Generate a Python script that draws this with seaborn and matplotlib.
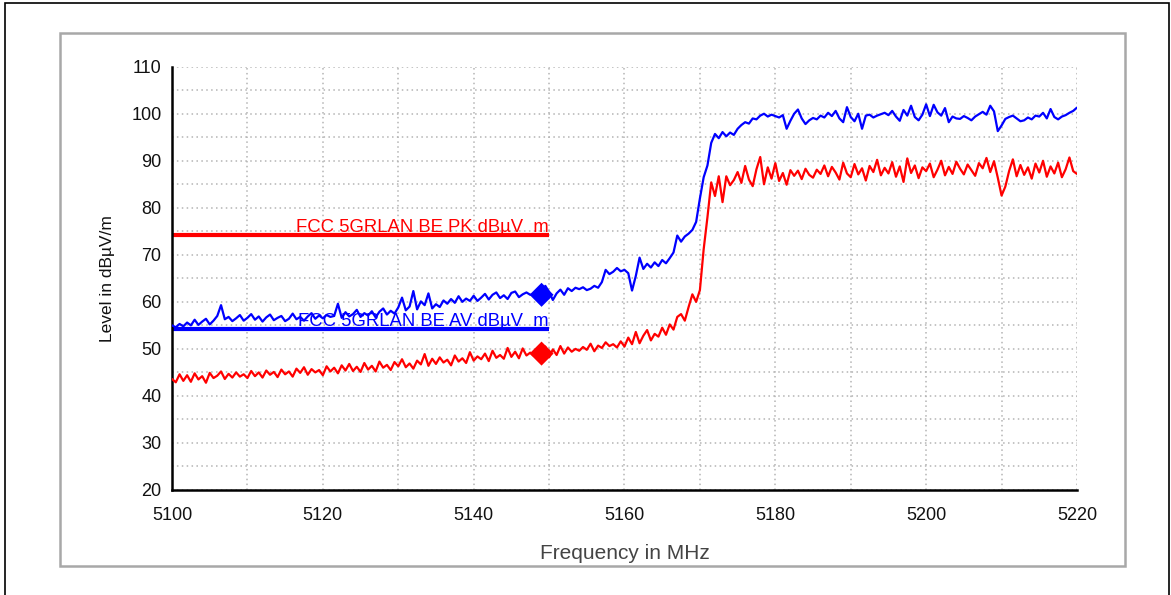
import numpy as np
import pandas as pd
import seaborn as sns
import matplotlib.pyplot as plt
from matplotlib.patches import Rectangle
from matplotlib.ticker import MultipleLocator

sns.set_theme(style="white")
plt.rcParams['font.family'] = ['Liberation Sans', 'DejaVu Sans']

# sweep grid (MHz)
freq_start = 5100.0
freq_step = 0.5

# peak trace (blue), dBuV/m, one value per 0.5 MHz from 5100 to 5220
blue_level = [
    55.0, 54.6, 55.3, 54.8, 55.6, 55.0, 56.2, 55.1, 55.8, 56.4,
    55.2, 56.0, 57.0, 59.3, 56.3, 56.8, 55.9, 56.5, 57.2, 56.0,
    56.6, 57.4, 56.2, 56.9, 55.8, 56.7, 57.3, 56.1, 56.6, 57.0,
    55.9, 56.4, 57.5, 56.3, 56.8, 56.0, 56.9, 57.6, 56.4, 57.1,
    56.5, 57.2, 56.8, 57.0, 59.6, 56.6, 57.8, 56.9, 57.4, 58.3,
    56.8, 57.6, 57.1, 58.0, 56.7, 57.9, 58.6, 57.3, 58.1, 57.5,
    58.8, 60.9, 58.2, 59.0, 62.3, 58.4, 60.1, 59.3, 61.8, 58.6,
    59.5, 58.9, 60.3, 59.6, 60.6, 59.8, 61.2, 60.0, 60.7, 60.2,
    61.3, 60.2, 60.9, 61.7, 60.5, 61.5, 62.0, 60.8, 61.4, 60.6,
    61.9, 62.2, 61.0, 61.6, 62.0, 61.5, 61.7, 62.4, 61.5, 63.4,
    62.1, 60.4, 61.8, 62.6, 61.5, 62.9, 62.3, 63.0, 62.7, 63.1,
    62.5, 62.8, 63.4, 63.0, 64.2, 66.8, 65.9, 66.4, 67.2, 66.5,
    66.8, 66.1, 62.4, 65.5, 69.4, 67.0, 68.1, 67.3, 68.4, 67.6,
    68.9, 68.2, 69.3, 70.5, 74.1, 72.8, 73.9, 74.5, 75.3, 77.0,
    82.0, 86.5, 89.0, 93.8, 95.7, 94.8, 96.1, 95.2, 96.0, 95.5,
    96.8, 97.6, 98.2, 97.9, 99.0, 98.8, 99.6, 100.0, 99.4, 99.8,
    99.5, 99.2, 99.7, 96.8, 98.5, 100.0, 100.9, 99.0, 97.8, 98.6,
    99.1, 98.8, 99.6, 99.2, 100.2, 99.5, 100.6, 99.0, 98.2, 101.4,
    99.3, 98.4, 100.0, 96.8, 99.6, 99.8, 99.2, 99.6, 99.9, 100.2,
    99.7, 100.6, 99.4, 98.5, 100.8, 99.6, 101.7, 99.3, 98.6, 99.8,
    102.0, 99.5, 101.9, 100.3, 99.6, 101.2, 98.2, 99.4, 99.0, 98.9,
    99.5, 99.1, 98.6, 99.4, 99.9, 100.4, 99.8, 101.7, 100.5, 96.3,
    97.5, 98.9, 99.3, 99.6, 99.0, 98.4, 98.6, 99.2, 98.8, 99.6,
    99.4, 100.2, 99.0, 101.0, 99.3, 98.8, 99.4, 99.7, 100.2, 100.6,
    101.3,
]

# average trace (red)
red_level = [
    43.6, 42.9, 44.6, 43.2, 44.4, 43.0, 44.8, 43.5, 44.2, 42.8,
    44.9, 43.8, 44.3, 45.2, 43.6, 44.7, 43.9, 45.0, 44.1, 44.6,
    43.8, 45.3, 44.2, 45.0, 43.9, 45.4, 44.5, 45.1, 44.0, 45.6,
    44.6, 45.2, 44.1, 45.8, 44.9, 46.1, 44.5, 45.7, 45.0, 45.5,
    44.4, 46.3, 45.2, 46.0, 44.8, 46.5, 45.4, 46.8, 45.3, 46.2,
    45.1, 47.0, 45.6, 46.4, 45.2, 47.3, 46.0, 46.6, 45.5, 47.2,
    46.3, 47.8, 46.1, 46.9, 45.8, 47.5, 46.7, 48.9, 46.4, 47.9,
    46.8, 48.2, 47.1, 47.7, 46.5, 48.6, 47.3, 48.0, 47.0, 49.3,
    47.5, 48.4, 47.8, 49.0, 47.4, 49.6, 48.1, 48.7, 47.9, 50.2,
    48.3, 49.4, 48.0, 50.1, 48.6, 49.2, 48.5, 49.8, 49.0, 50.5,
    48.2, 49.9, 48.7, 50.6, 49.0, 50.3, 49.4, 50.0, 49.6, 50.4,
    49.8, 51.1, 49.5, 50.7, 50.2, 51.4, 50.6, 51.0, 50.3, 51.6,
    50.5, 52.4, 51.0, 53.6, 51.2, 52.8, 54.0, 51.8, 53.2, 52.6,
    54.5, 53.0, 55.2, 54.1, 56.8, 57.4, 56.0, 58.9, 61.6, 60.0,
    62.5, 71.2, 78.0, 85.4, 82.5, 86.7, 81.2, 86.7, 84.8, 85.9,
    87.6, 85.3, 88.9, 86.0, 84.6, 88.2, 90.8, 85.0, 88.6, 86.2,
    89.5, 85.7, 87.4, 84.9, 88.0, 86.8, 87.9, 86.1, 88.3, 87.0,
    86.4, 88.1, 87.2, 89.0, 86.7, 88.7, 87.5, 86.0, 89.6, 87.3,
    86.5, 89.3, 87.1, 88.4, 85.8, 88.9, 87.6, 90.2, 86.9, 88.5,
    87.3, 89.7, 86.6, 88.8, 85.5, 90.5, 87.4, 89.0, 86.3, 88.6,
    87.8, 89.4, 86.5, 88.1, 90.0, 86.9, 88.7, 87.2, 89.8, 88.3,
    87.1, 89.2, 88.0, 86.8, 89.5, 88.4, 90.6, 87.6, 89.9, 86.4,
    82.6, 84.5, 87.8, 90.3, 86.7, 89.1, 87.0, 88.6, 86.2, 89.4,
    87.5, 90.0, 86.6, 88.8, 87.3, 89.6, 86.5, 88.2, 90.7, 87.8,
    87.2,
]

# limit lines
limit_names = ["FCC 5GRLAN BE PK dBµV_m", "FCC 5GRLAN BE AV dBµV_m"]
limit_levels = [74.3, 54.3]
limit_span = [5100, 5150]

# final measurement markers
marker_freq = [5149, 5149]
marker_level = [61.5, 49.0]

colors = ["#0000ff", "#ff0000"]

freq = freq_start + freq_step * np.arange(len(blue_level))
df = pd.DataFrame({"freq": freq, "peak": blue_level, "avg": red_level})

fig = plt.figure(figsize=(11.71, 5.95), dpi=100)
ax = fig.add_axes([0.1469, 0.1765, 0.7728, 0.7114])

# frame around the whole picture and the gray panel
fig.patches.append(Rectangle((5 / 1171, -0.02), 1164 / 1171, 1 - 3 / 595 + 0.02,
                             transform=fig.transFigure, fill=False, ec="black", lw=1.2))
fig.patches.append(Rectangle((60 / 1171, 1 - 566 / 595), 1065 / 1171, 533 / 595,
                             transform=fig.transFigure, fill=False, ec="#a8a8a8", lw=1.8))

sns.lineplot(data=df, x="freq", y="peak", color=colors[0], lw=1.6, ax=ax, zorder=3)
sns.lineplot(data=df, x="freq", y="avg", color=colors[1], lw=1.6, ax=ax, zorder=3)

# limits and their labels
for name, lvl, c in zip(limit_names, limit_levels, ["#ff0000", "#0000ff"]):
    ax.plot(limit_span, [lvl, lvl], color=c, lw=3, solid_capstyle="butt", zorder=2)
    ax.annotate(name, xy=(limit_span[1], lvl), xytext=(0, 2.2), textcoords="offset points",
                ha="right", va="baseline", color=c, fontsize=13.3, zorder=4)

sns.scatterplot(x=marker_freq, y=marker_level, hue=["pk", "av"], palette=colors,
                marker="D", s=150, edgecolor="none", legend=False, ax=ax, zorder=5)

ax.set_xlim(5100, 5220)
ax.set_ylim(20, 110)
ax.xaxis.set_major_locator(MultipleLocator(20))
ax.xaxis.set_minor_locator(MultipleLocator(10))
ax.yaxis.set_major_locator(MultipleLocator(10))
ax.yaxis.set_minor_locator(MultipleLocator(5))

ax.grid(True, which="both", color="#b4b4b4", lw=1.1, linestyle=(0, (1, 2.2)))
ax.set_axisbelow(True)

for side in ["top", "right"]:
    ax.spines[side].set_visible(False)
for side in ["left", "bottom"]:
    ax.spines[side].set_color("black")
    ax.spines[side].set_linewidth(1.8)

ax.tick_params(axis="both", which="both", direction="inout", color="black", width=1.5,
               labelsize=13, labelcolor="#111111")
ax.tick_params(axis="y", which="both", length=9, pad=3)
ax.tick_params(axis="x", which="both", length=8, pad=8)

ax.set_xlabel("Frequency in MHz", fontsize=15, color="#444444", labelpad=15)
ax.set_ylabel("Level in dBµV/m", fontsize=12.5, color="#111111", labelpad=12)

fig.savefig("out.png", dpi=100)
